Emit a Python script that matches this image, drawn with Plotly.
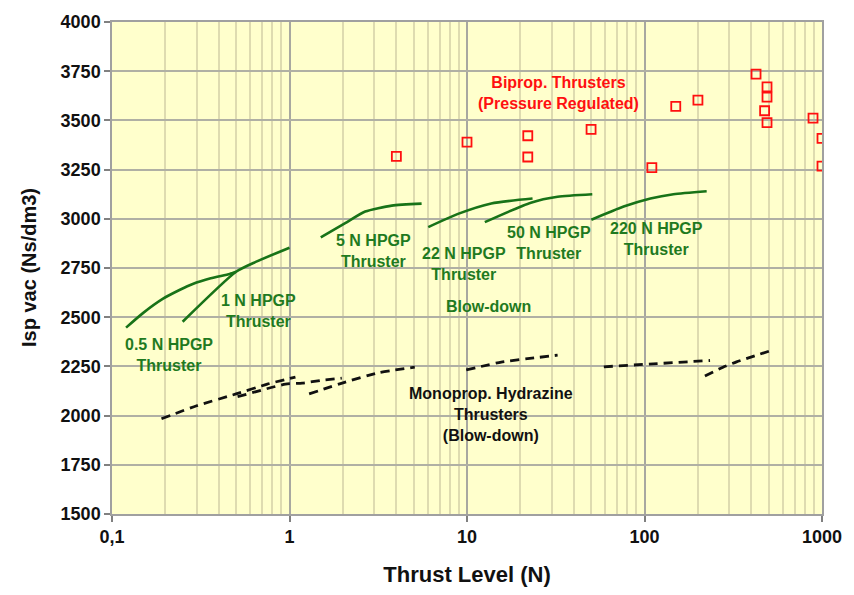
import plotly.graph_objects as go

# ---------------- data ----------------
biprop_thrust = [4, 10, 22, 22, 50, 110, 150, 200, 425, 490, 490, 475, 490, 890, 1000, 1000]
biprop_isp = [3317, 3390, 3422, 3314, 3454, 3260, 3571, 3603, 3735, 3670, 3618, 3549, 3489, 3512, 3409, 3268]

hpgp_05_thrust = [0.12, 0.15, 0.194, 0.24, 0.285, 0.36, 0.46, 0.5]
hpgp_05_isp = [2447, 2522, 2594, 2638, 2669, 2698, 2720, 2731]

hpgp_1_thrust = [0.25, 0.5, 0.645, 1.0]
hpgp_1_isp = [2477, 2731, 2781, 2853]

hpgp_5_thrust = [1.5, 2.06, 2.67, 3.77, 5.55]
hpgp_5_isp = [2906, 2978, 3037, 3067, 3077]

hpgp_22_thrust = [6.05, 8.9, 13.7, 23.4]
hpgp_22_isp = [2958, 3025, 3078, 3103]

hpgp_50_thrust = [12.6, 22.9, 32.4, 50.8]
hpgp_50_isp = [2983, 3082, 3112, 3125]

hpgp_220_thrust = [50.2, 76.3, 108, 145.5, 224]
hpgp_220_isp = [2995, 3062, 3103, 3125, 3140]

mono_a_thrust = [0.19, 0.3, 0.5, 0.75, 1.08]
mono_a_isp = [1984, 2050, 2110, 2160, 2196]

mono_b_thrust = [0.51, 0.95, 1.18, 1.53, 1.97]
mono_b_isp = [2096, 2160, 2165, 2180, 2190]

mono_c_thrust = [1.29, 2.02, 3.17, 5.08]
mono_c_isp = [2110, 2168, 2218, 2246]

mono_d_thrust = [9.9, 15.6, 23.9, 32.4]
mono_d_isp = [2232, 2272, 2293, 2307]

mono_e_thrust = [59, 112, 234]
mono_e_isp = [2248, 2263, 2280]

mono_f_thrust = [219, 277, 330, 502]
mono_f_isp = [2201, 2246, 2273, 2327]

x_tickvals = [0.1, 1, 10, 100, 1000]
x_ticktext = ["0,1", "1", "10", "100", "1000"]
y_tickvals = [1500, 1750, 2000, 2250, 2500, 2750, 3000, 3250, 3500, 3750, 4000]
x_minor = [m * d for d in (0.1, 1, 10, 100) for m in range(2, 10)]

# ---------------- styles ----------------
GREEN = "#187318"
GREEN_TXT = "#1f7a1f"
FONT = "Liberation Sans, Arial, sans-serif"

fig = go.Figure()

for xs, ys in [(hpgp_05_thrust, hpgp_05_isp), (hpgp_1_thrust, hpgp_1_isp),
               (hpgp_5_thrust, hpgp_5_isp), (hpgp_22_thrust, hpgp_22_isp),
               (hpgp_50_thrust, hpgp_50_isp), (hpgp_220_thrust, hpgp_220_isp)]:
    fig.add_trace(go.Scatter(x=xs, y=ys, mode="lines",
                             line=dict(color=GREEN, width=2.6, shape="spline", smoothing=0.6),
                             showlegend=False, hoverinfo="skip"))

for xs, ys in [(mono_a_thrust, mono_a_isp), (mono_b_thrust, mono_b_isp),
               (mono_c_thrust, mono_c_isp), (mono_d_thrust, mono_d_isp),
               (mono_e_thrust, mono_e_isp), (mono_f_thrust, mono_f_isp)]:
    fig.add_trace(go.Scatter(x=xs, y=ys, mode="lines",
                             line=dict(color="#111111", width=2.8, dash="9px,6px",
                                       shape="spline", smoothing=0.5),
                             showlegend=False, hoverinfo="skip"))

fig.add_trace(go.Scatter(x=biprop_thrust, y=biprop_isp, mode="markers",
                         marker=dict(symbol="square-open", size=9, color="#ff1010",
                                     line=dict(width=1.8, color="#ff1010")),
                         showlegend=False))

# ---------------- annotations ----------------
L, R, T, B = 112, 826, 16, 515


def px(xp, yp):
    return (xp - L) / (R - L), (B - yp) / (B - T)


labels = [
    ("Biprop. Thrusters<br>(Pressure Regulated)", 561, 88, "#ff1010"),
    ("0.5 N HPGP<br>Thruster", 169, 354, GREEN_TXT),
    ("1 N HPGP<br>Thruster", 259, 309, GREEN_TXT),
    ("5 N HPGP<br>Thruster", 375, 248, GREEN_TXT),
    ("22 N HPGP<br>Thruster", 466, 261, GREEN_TXT),
    ("50 N HPGP<br>Thruster", 551, 240, GREEN_TXT),
    ("220 N HPGP<br>Thruster", 660, 236, GREEN_TXT),
    ("Blow-down", 491, 305, GREEN_TXT),
    ("Monoprop. Hydrazine<br>Thrusters<br>(Blow-down)", 493, 414, "#111111"),
]
for text, xp, yp, col in labels:
    ax_, ay_ = px(xp, yp)
    fig.add_annotation(x=ax_, y=ay_, xref="paper", yref="paper", text=text,
                       showarrow=False, xanchor="center", yanchor="middle",
                       font=dict(family=FONT, size=16, color=col, weight="bold"))

# y-axis title placed as a rotated annotation
yt_x, yt_y = px(28, 265)
fig.add_annotation(x=yt_x, y=yt_y, xref="paper", yref="paper",
                   text="Isp vac (Ns/dm3)", textangle=-90, showarrow=False,
                   xanchor="center", yanchor="middle",
                   font=dict(family=FONT, size=20, color="#111111", weight="bold"))

fig.update_layout(
    width=854, height=595,
    margin=dict(l=L, r=854 - R, t=T, b=595 - B),
    paper_bgcolor="white",
    plot_bgcolor="#ffffcc",
    font=dict(family=FONT, color="#111111"),
)

fig.update_xaxes(
    type="log", range=[-1, 3],
    tickmode="array", tickvals=x_tickvals, ticktext=x_ticktext,
    tickfont=dict(family=FONT, size=18, weight="bold", color="#111111"),
    ticks="outside", ticklen=6, tickcolor="#808080", tickwidth=1.5,
    showgrid=True, gridcolor="#a8a8a0", gridwidth=1.5,
    minor=dict(tickmode="array", tickvals=x_minor, showgrid=True,
               gridcolor="#dedbb0", gridwidth=2, ticks=""),
    showline=True, linecolor="#a0a0a0", linewidth=1.5, mirror=True,
    zeroline=False,
    title=dict(text="Thrust Level (N)", standoff=20,
               font=dict(family=FONT, size=22, weight="bold", color="#111111")),
)

fig.update_yaxes(
    range=[1500, 4000],
    tickmode="array", tickvals=y_tickvals,
    tickfont=dict(family=FONT, size=18, weight="bold", color="#111111"),
    ticks="outside", ticklen=6, tickcolor="#808080", tickwidth=1.5,
    showgrid=True, gridcolor="#b0b0a4", gridwidth=1.5,
    showline=True, linecolor="#a0a0a0", linewidth=1.5, mirror=True,
    zeroline=False,
)

fig.write_html("out.html")
